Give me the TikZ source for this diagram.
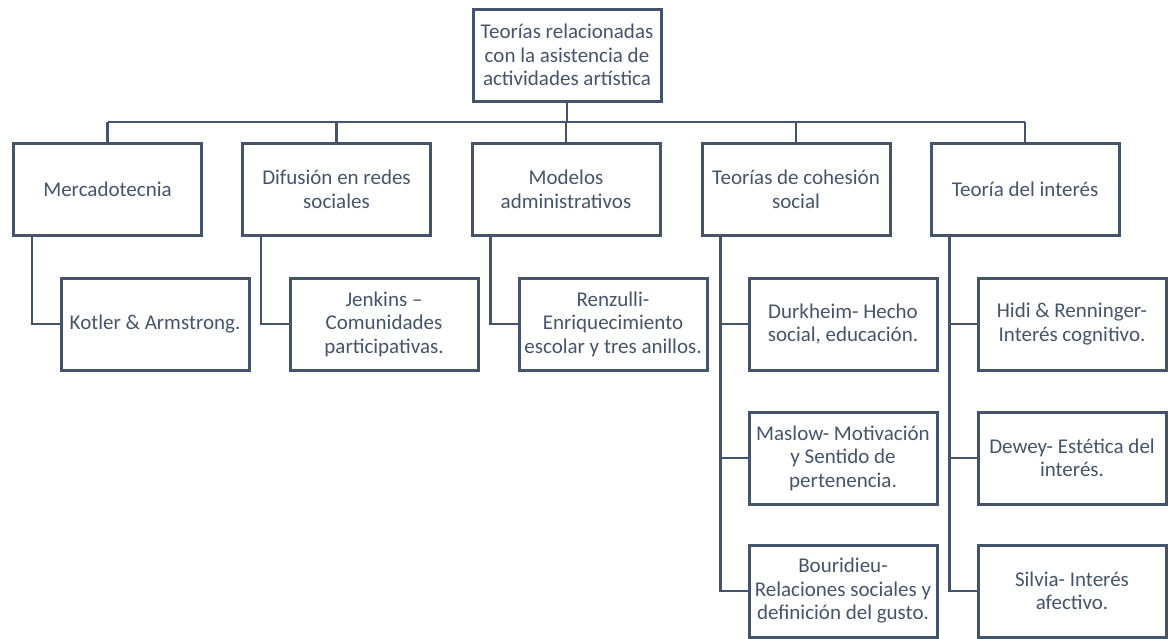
\documentclass[tikz,border=0pt]{standalone}
\usepackage{fontspec}
\setmainfont{Carlito}
\usetikzlibrary{calc}
\definecolor{slate}{HTML}{44546A}
\tikzset{
  box/.style={draw=slate, line width=3pt, rectangle, minimum width=188pt, minimum height=92pt,
    inner sep=2pt, align=center, text=slate, font=\fontsize{21}{23.5}\selectfont},
  conn/.style={draw=slate, line width=2.2pt}
}
\begin{document}
\begin{tikzpicture}[x=1pt,y=-1pt]
\useasboundingbox (0,0) rectangle (1168,638);
\coordinate (bus) at (0,122);
% top
\node[box] (top) at (567,55) {Teorías relacionadas\\con la asistencia de\\actividades artística};
% level 1
\node[box] (a) at (107.5,189.5) {Mercadotecnia};
\node[box] (b) at (336.5,189.5) {Difusión en redes\\sociales};
\node[box] (c) at (566,189.5) {Modelos\\administrativos};
\node[box] (d) at (796,189.5) {Teorías de cohesión\\social};
\node[box] (e) at (1025,189.5) {Teoría del interés};
% level 2
\node[box] (a1) at (155,324) {Kotler \& Armstrong.};
\node[box] (b1) at (384,324) {Jenkins –\\Comunidades\\participativas.};
\node[box] (c1) at (613,324) {Renzulli-\\Enriquecimiento\\escolar y tres anillos.};
\node[box] (d1) at (843,324) {Durkheim- Hecho\\social, educación.};
\node[box] (d2) at (843,458) {Maslow- Motivación\\y Sentido de\\pertenencia.};
\node[box] (d3) at (843,591) {Bouridieu-\\Relaciones sociales y\\definición del gusto.};
\node[box] (e1) at (1072,324) {Hidi \& Renninger-\\Interés cognitivo.};
\node[box] (e2) at (1072,458) {Dewey- Estética del\\interés.};
\node[box] (e3) at (1072,591) {Silvia- Interés\\afectivo.};
% bus
\draw[conn] (top.south) -- (top.south |- bus);
\foreach \n in {a,b,c,d,e}{
  \draw[conn] (\n.north) -- (\n.north |- bus);
}
\draw[conn] (a.north |- bus) -- (e.north |- bus);
% children
\foreach \p/\ch in {a/a1,b/b1,c/c1,d/d1,d/d2,d/d3,e/e1,e/e2,e/e3}{
  \draw[conn] ($(\p.south west)+(20pt,0)$) |- (\ch.west);
}
\end{tikzpicture}
\end{document}
